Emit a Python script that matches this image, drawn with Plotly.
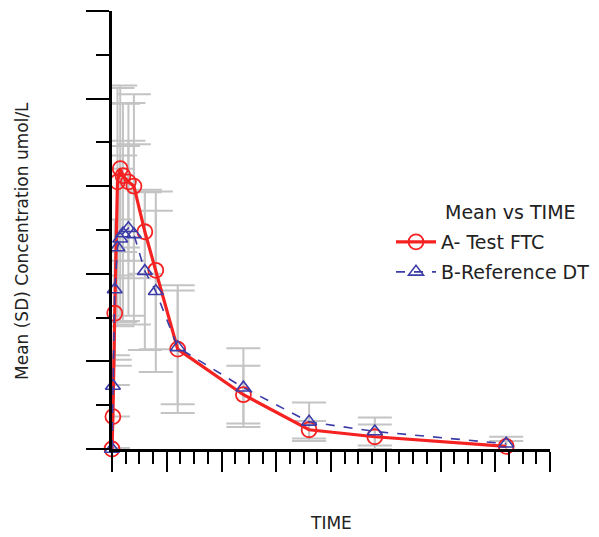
import plotly.graph_objects as go

# ---- data ----
time = [0, 0.083, 0.25, 0.5, 0.75, 1, 1.5, 2, 3, 4, 6, 12, 18, 24, 36]
test_mean = [0, 3.7, 15.5, 30.5, 32.0, 31.2, 30.5, 30.0, 24.8, 20.4, 11.4, 6.2, 2.2, 1.4, 0.3]
test_sd = [0, 3.6, 6.0, 10.7, 9.5, 8.2, 9.0, 10.5, 4.8, 9.0, 7.3, 3.3, 1.0, 1.4, 0.6]
ref_mean = [0, 7.2, 18.2, 23.0, 24.0, 24.6, 25.2, 24.5, 20.3, 18.0, 11.6, 7.0, 3.1, 2.0, 0.6]
ref_sd = [0, 3.5, 8.0, 9.0, 9.5, 10.0, 10.0, 10.3, 9.0, 9.2, 6.5, 4.5, 2.2, 1.6, 0.8]

series_names = ["A- Test FTC", "B-Reference DT"]
legend_title = "Mean vs TIME"
x_title = "TIME"
y_title = "Mean (SD) Concentration umol/L"

FONT = "DejaVu Sans"
OFF = 8  # page body margin
W, H = 599 - OFF, 537 - OFF
L, T = 112 - OFF, 11 - OFF
R = W - (550 - OFF)
B = H - (449 - OFF)
PW, PH = W - L - R, H - T - B

def px_x(p):
    return (p - OFF - L) / PW

def px_y(p):
    return (H - B - (p - OFF)) / PH

fig = go.Figure()

err_style = dict(type="data", symmetric=True, color="#c4c4c4", thickness=2, width=17)
for m, s in [(test_mean, test_sd), (ref_mean, ref_sd)]:
    fig.add_trace(go.Scatter(
        x=time, y=m, mode="markers",
        marker=dict(size=1, color="rgba(0,0,0,0)"),
        error_y=dict(array=s, **err_style),
        showlegend=False, hoverinfo="skip", cliponaxis=False,
    ))

fig.add_trace(go.Scatter(
    x=time, y=test_mean, mode="lines+markers", name=series_names[0],
    line=dict(color="#f52222", width=3.2),
    marker=dict(symbol="circle-open", size=15, color="#f52222", line=dict(width=1.8)),
    cliponaxis=False, legend="legend",
))
fig.add_trace(go.Scatter(
    x=time, y=ref_mean, mode="lines+markers", name=series_names[1],
    line=dict(color="#3c3ca8", width=1.6, dash="dash"),
    marker=dict(symbol="triangle-up-open", size=13, color="#3c3ca8", line=dict(width=1.6)),
    cliponaxis=False, legend="legend2",
))

leg_common = dict(font=dict(family=FONT, size=19, color="#222"), bgcolor="rgba(0,0,0,0)",
                  xanchor="left", yanchor="middle", itemwidth=40)
fig.update_layout(
    width=W, height=H,
    margin=dict(l=L, r=R, t=T, b=B, autoexpand=False),
    plot_bgcolor="white", paper_bgcolor="white",
    legend=dict(x=px_x(391), y=px_y(242), **leg_common),
    legend2=dict(x=px_x(391), y=px_y(272), **leg_common),
    xaxis=dict(
        range=[0, 40], dtick=5, tick0=0, showticklabels=False, showgrid=False, zeroline=False,
        ticks="outside", ticklen=20, tickwidth=2, tickcolor="black",
        showline=True, linecolor="black", linewidth=3,
        minor=dict(dtick=1.25, ticks="outside", ticklen=12, tickwidth=2, tickcolor="black", showgrid=False),
    ),
    yaxis=dict(
        range=[0, 50], dtick=10, tick0=0, showticklabels=False, showgrid=False, zeroline=False,
        ticks="outside", ticklen=23, tickwidth=2, tickcolor="black",
        showline=True, linecolor="black", linewidth=3,
        minor=dict(dtick=5, ticks="outside", ticklen=13, tickwidth=2, tickcolor="black", showgrid=False),
    ),
    annotations=[
        dict(text=legend_title, x=px_x(443), y=px_y(212), xref="paper", yref="paper",
             xanchor="left", yanchor="middle", showarrow=False,
             font=dict(family=FONT, size=19, color="#222")),
        dict(text=x_title, x=0.5, y=px_y(523), xref="paper", yref="paper",
             xanchor="center", yanchor="middle", showarrow=False,
             font=dict(family=FONT, size=17, color="#222")),
        dict(text=y_title, x=px_x(22), y=px_y(241), xref="paper", yref="paper",
             xanchor="center", yanchor="middle", showarrow=False, textangle=-90,
             font=dict(family=FONT, size=17, color="#222")),
    ],
)

fig.write_html("out.html")
